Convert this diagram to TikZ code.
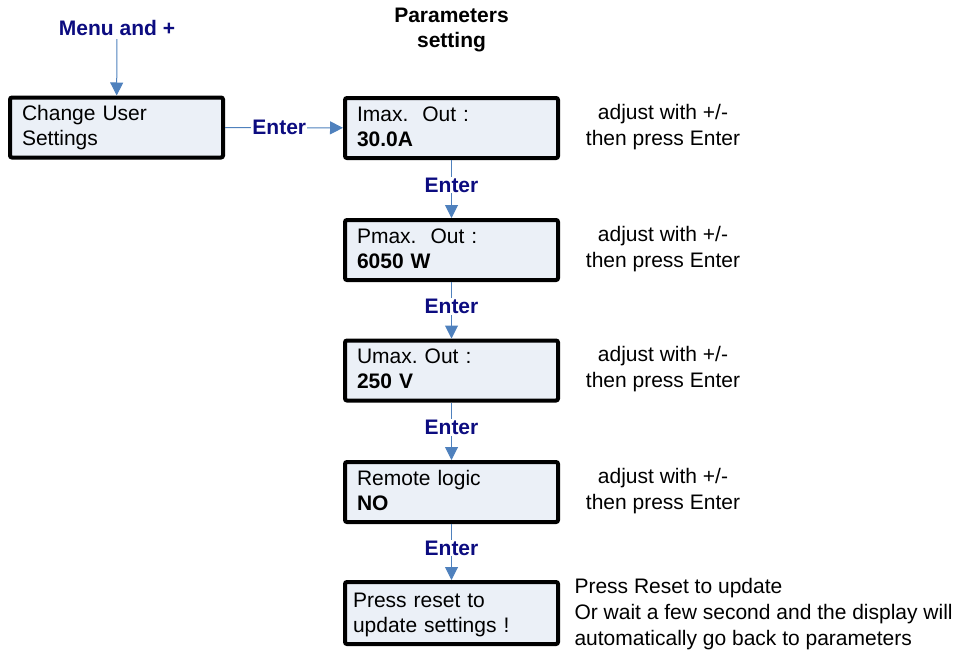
\documentclass[tikz,border=0pt]{standalone}
\usepackage{fontspec}
\setmainfont{Liberation Sans}
\usetikzlibrary{arrows.meta,positioning}
\frenchspacing

\definecolor{boxfill}{RGB}{235,240,247}
\definecolor{flowblue}{RGB}{79,129,189}
\definecolor{keynavy}{RGB}{12,12,128}

\tikzset{
  lcdbox/.style={draw=black, line width=4pt, rounded corners=2pt, fill=boxfill,
    minimum width=213pt, minimum height=60pt, text width=189pt, inner xsep=12pt,
    align=left, text height=15pt, text depth=29pt,
    font=\fontsize{21}{25}\selectfont},
  flow/.style={draw=flowblue, line width=1pt,
    -{Triangle[width=13pt,length=13pt]}},
  keylbl/.style={fill=white, inner sep=1pt, text=keynavy,
    font=\fontsize{21}{25}\selectfont\bfseries},
  hint/.style={align=center, font=\fontsize{21}{26}\selectfont},
}

\begin{document}
\begin{tikzpicture}[x=1pt, y=-1pt]
  \useasboundingbox (0,0) rectangle (963,653);

  % heading and entry key
  \node[text=keynavy, font=\fontsize{21}{25}\selectfont\bfseries] (menu) at (117,28) {Menu and +};
  \node[align=center, font=\fontsize{21}{25}\selectfont\bfseries] (title) at (451.5,30) {Parameters\\setting};

  % display screens
  \node[lcdbox] (change) at (116.5,127.5) {Change User\\Settings};
  \node[lcdbox] (imax)   at (451.5,128)   {Imax.~~Out :\\\textbf{30.0A}};
  \node[lcdbox] (pmax)   at (451.5,250)   {Pmax.~~Out :\\\textbf{6050 W}};
  \node[lcdbox] (umax)   at (451.5,370.5) {Umax. Out :\\\textbf{250 V}};
  \node[lcdbox] (remote) at (451.5,492)   {Remote logic\\\textbf{NO}};
  \node[lcdbox, minimum height=62pt, inner xsep=8pt, text width=197pt,
        text height=16pt, text depth=28pt] (reset) at (451.5,613) {Press reset to\\update settings !};

  % notes beside the screens
  \node[hint] (n1) at (663,127)   {adjust with +/-\\then press Enter};
  \node[hint] (n2) at (663,249)   {adjust with +/-\\then press Enter};
  \node[hint] (n3) at (663,369)   {adjust with +/-\\then press Enter};
  \node[hint] (n4) at (663,491)   {adjust with +/-\\then press Enter};
  \node[align=left, anchor=west, font=\fontsize{21}{26}\selectfont] (n5) at (571,614)
    {Press Reset to update\\Or wait a few second and the display will\\automatically go back to parameters};

  % flow
  \draw[flow] (menu) -- (change);
  \draw[flow] (change) -- node[keylbl, pos=0.46] {Enter} (imax);
  \draw[flow] (imax)   -- node[keylbl, pos=0.43] {Enter} (pmax);
  \draw[flow] (pmax)   -- node[keylbl, pos=0.43] {Enter} (umax);
  \draw[flow] (umax)   -- node[keylbl, pos=0.43] {Enter} (remote);
  \draw[flow] (remote) -- node[keylbl, pos=0.43] {Enter} (reset);
\end{tikzpicture}
\end{document}
